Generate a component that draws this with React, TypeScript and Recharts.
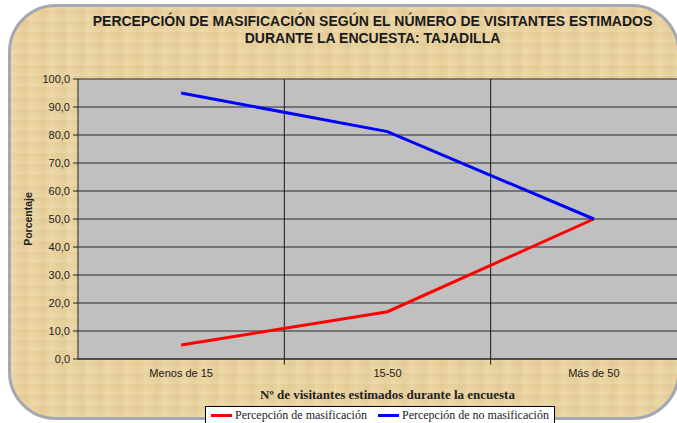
import React from 'react';
import { CartesianGrid, Line, LineChart, ReferenceLine, XAxis, YAxis } from 'recharts';

const categories = ['Menos de 15', '15-50', 'Más de 50'];
const masificacion = [5.0, 16.9, 50.0];
const noMasificacion = [95.0, 81.2, 50.0];
const yTicks = [0, 10, 20, 30, 40, 50, 60, 70, 80, 90, 100];
const separators = [0.5, 1.5];

const data = categories.map((c, i) => ({
  idx: i,
  name: c,
  masificacion: masificacion[i],
  noMasificacion: noMasificacion[i],
}));

const fmt = (v: number) => v.toFixed(1).replace('.', ',');

const LegendBox = () => (
  <div
    style={{
      position: 'absolute',
      left: 205,
      top: 406,
      display: 'flex',
      alignItems: 'center',
      background: '#fff',
      border: '1px solid #000',
      height: 17,
      padding: '0 5px',
      fontFamily: '"Liberation Serif", "Times New Roman", serif',
      fontSize: 12,
      color: '#222',
      whiteSpace: 'nowrap',
    }}
  >
    <span style={{ display: 'inline-block', width: 21, height: 3, background: '#ff0000', marginRight: 3 }} />
    <span style={{ marginRight: 11 }}>Percepción de masificación</span>
    <span style={{ display: 'inline-block', width: 21, height: 3, background: '#0000ff', marginRight: 3 }} />
    <span>Percepción de no masificación</span>
  </div>
);

export default function App() {
  return (
    <div style={{ position: 'absolute', left: 0, top: 0, width: 677, height: 423, overflow: 'hidden', background: '#fff' }}>
      <div
        style={{
          position: 'absolute',
          left: 8,
          top: 4,
          width: 672,
          height: 416,
          boxSizing: 'border-box',
          borderRadius: 48,
          border: '3px solid #a3a8b3',
          background:
            'repeating-linear-gradient(90deg, rgba(255,255,255,0.10) 0px, rgba(255,255,255,0) 7px, rgba(160,120,50,0.06) 13px, rgba(255,255,255,0) 19px), repeating-linear-gradient(0deg, rgba(255,255,255,0.08) 0px, rgba(0,0,0,0) 5px, rgba(150,110,40,0.05) 11px), #ead39f',
        }}
      />
      <div
        style={{
          position: 'absolute',
          left: 0,
          top: 13,
          width: 745,
          textAlign: 'center',
          fontFamily: '"Liberation Sans Narrow", "Arial Narrow", sans-serif',
          fontWeight: 'bold',
          fontSize: 14,
          lineHeight: '17px',
          color: '#1a1a1a',
        }}
      >
        PERCEPCIÓN DE MASIFICACIÓN SEGÚN EL NÚMERO DE VISITANTES ESTIMADOS
        <br />
        DURANTE LA ENCUESTA: TAJADILLA
      </div>
      <div style={{ position: 'absolute', left: 0, top: 0 }}>
        <LineChart width={720} height={423} data={data} margin={{ top: 79, right: 23, left: 0, bottom: 0 }}>
          <CartesianGrid fill="#c0c0c0" stroke="#2a2a2a" vertical={false} horizontalValues={yTicks} />
          <XAxis
            dataKey="idx"
            type="number"
            domain={[-0.5, 2.5]}
            ticks={[0, 1, 2]}
            tickFormatter={(v: number) => categories[v] ?? ''}
            height={64}
            tickLine={false}
            tickSize={0}
            tickMargin={10}
            axisLine={{ stroke: '#222' }}
            tick={{ fill: '#222', fontSize: 11, fontFamily: '"Liberation Sans", Arial, sans-serif' }}
            label={{
              value: 'Nº de visitantes estimados durante la encuesta',
              position: 'insideBottom',
              offset: 24,
              fill: '#222',
              fontSize: 13,
              fontWeight: 'bold',
              fontFamily: '"Liberation Serif", "Times New Roman", serif',
            }}
          />
          <YAxis
            type="number"
            domain={[0, 100]}
            ticks={yTicks}
            tickFormatter={fmt}
            width={78}
            tickSize={5}
            tickMargin={3}
            interval={0}
            axisLine={{ stroke: '#222' }}
            tickLine={{ stroke: '#222' }}
            tick={{ fill: '#222', fontSize: 11, fontFamily: '"Liberation Sans", Arial, sans-serif' }}
            label={{
              value: 'Porcentaje',
              angle: -90,
              position: 'center',
              dx: -11,
              fill: '#222',
              fontSize: 10.5,
              fontWeight: 'bold',
              fontFamily: '"Liberation Sans", Arial, sans-serif',
            }}
          />
          {separators.map((s) => (
            <ReferenceLine
              key={s}
              segment={[{ x: s, y: -2 }, { x: s, y: 100 }]}
              ifOverflow="visible"
              stroke="#1a1a1a"
              strokeWidth={1}
            />
          ))}
          <Line
            dataKey="masificacion"
            name="Percepción de masificación"
            stroke="#ff0000"
            strokeWidth={3}
            dot={false}
            isAnimationActive={false}
          />
          <Line
            dataKey="noMasificacion"
            name="Percepción de no masificación"
            stroke="#0000ff"
            strokeWidth={3}
            dot={false}
            isAnimationActive={false}
          />
        </LineChart>
      </div>
      <LegendBox />
    </div>
  );
}
